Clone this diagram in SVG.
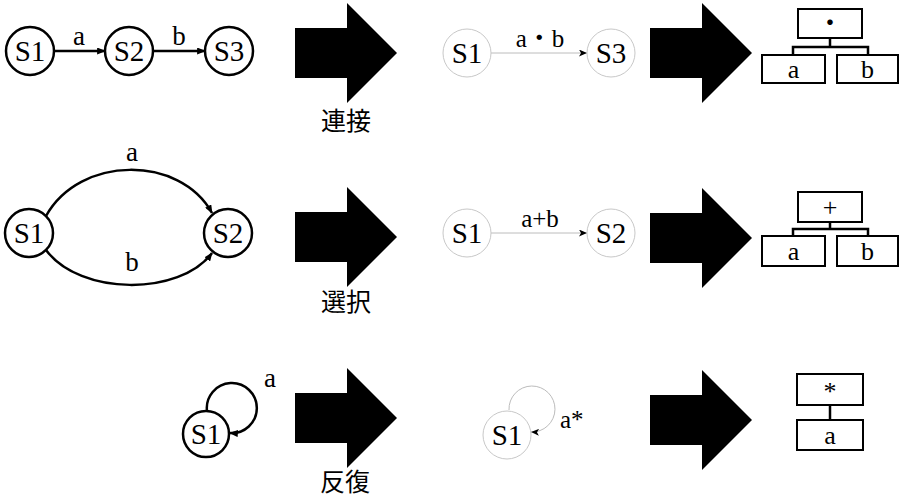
<svg xmlns="http://www.w3.org/2000/svg" width="903" height="499" viewBox="0 0 903 499">
  <style>
    .st { fill: #fff; stroke: #000; stroke-width: 2.5; }
    .st2 { fill: #fff; stroke: #c8c8c8; stroke-width: 1; }
    .edge { fill: none; stroke: #000; stroke-width: 2.5; }
    .edge2 { fill: none; stroke: #bcbcbc; stroke-width: 1; }
    .box { fill: #fff; stroke: #000; stroke-width: 2; }
    .tline { fill: none; stroke: #000; stroke-width: 2.5; }
  </style>
  <defs>
    <marker id="arr" viewBox="0 0 10 8" refX="9" refY="4" markerWidth="9" markerHeight="7" markerUnits="userSpaceOnUse" orient="auto">
      <path d="M0,0 L10,4 L0,8 z" fill="#000"/>
    </marker>
    <marker id="arr2" viewBox="0 0 8 7" refX="8" refY="3.5" markerWidth="8" markerHeight="7" markerUnits="userSpaceOnUse" orient="auto">
      <path d="M0,0 L8,3.5 L0,7 L2,3.5 z" fill="#000"/>
    </marker>
    <!-- big block arrow, tip at (0,0) -->
    <polygon id="big" points="-102,-25 -50,-25 -50,-50 0,0 -50,50 -50,25 -102,25" fill="#000"/>
  </defs>

  <!-- block arrows and captions -->
  <g id="transforms">
    <use href="#big" x="397" y="53"/>
    <use href="#big" x="397" y="237"/>
    <use href="#big" x="397" y="418"/>
    <use href="#big" x="752" y="53"/>
    <use href="#big" x="752" y="238"/>
    <use href="#big" x="752" y="420"/>
    <g font-family="Noto Sans CJK JP, Noto Sans, sans-serif" font-size="25" text-anchor="middle" fill="#000">
      <text x="346" y="130">連接</text>
      <text x="346" y="311">選択</text>
      <text x="345" y="491">反復</text>
    </g>
  </g>

  <!-- connectors -->
  <g id="connectors" font-family="Liberation Serif, Noto Sans CJK JP, serif" fill="#000">
    <line class="edge" x1="54" y1="51" x2="105" y2="51" marker-end="url(#arr)"/>
    <text x="79" y="45" font-size="27" text-anchor="middle">a</text>
    <line class="edge" x1="153" y1="51" x2="205" y2="51" marker-end="url(#arr)"/>
    <text x="179" y="45" font-size="27" text-anchor="middle">b</text>

    <path class="edge" d="M46,216 C80,155 180,155 212,213" marker-end="url(#arr)"/>
    <text x="132" y="161" font-size="27" text-anchor="middle">a</text>
    <path class="edge" d="M46,250 C80,296 180,296 212,253" marker-end="url(#arr)"/>
    <text x="132" y="271" font-size="27" text-anchor="middle">b</text>

    <path class="edge" d="M207,411 A25 25 0 1 1 230,433" marker-end="url(#arr)"/>
    <text x="270" y="387" font-size="27" text-anchor="middle">a</text>

    <line class="edge2" x1="491" y1="53" x2="587" y2="53" marker-end="url(#arr2)"/>
    <text x="540" y="47" font-size="25" text-anchor="middle">a・b</text>
    <line class="edge2" x1="491" y1="233" x2="587" y2="233" marker-end="url(#arr2)"/>
    <text x="540" y="227" font-size="25" text-anchor="middle">a+b</text>
    <path class="edge2" d="M509,410 A23 23 0 1 1 531,432" marker-end="url(#arr2)"/>
    <text x="560" y="428" font-size="25">a*</text>

    <path class="tline" d="M830,38 V47 M793,55 V47 H868 V55"/>
    <path class="tline" d="M830,222 V229 M793,236 V229 H868 V236"/>
    <path class="tline" d="M830,405 V420"/>
  </g>

  <g font-family="Liberation Serif, Noto Sans CJK JP, serif" font-size="29" text-anchor="middle" fill="#000">
    <!-- concatenation -->
    <g id="c-s1"><circle class="st" cx="30" cy="51" r="24"/><text x="30" y="61">S1</text></g>
    <g id="c-s2"><circle class="st" cx="129" cy="51" r="24"/><text x="129" y="61">S2</text></g>
    <g id="c-s3"><circle class="st" cx="229" cy="51" r="24"/><text x="229" y="61">S3</text></g>
    <g id="c-r-s1"><circle class="st2" cx="467" cy="53" r="24"/><text x="467" y="63">S1</text></g>
    <g id="c-r-s3"><circle class="st2" cx="611" cy="53" r="24"/><text x="611" y="63">S3</text></g>

    <!-- selection -->
    <g id="s-s1"><circle class="st" cx="29" cy="233" r="24"/><text x="29" y="243">S1</text></g>
    <g id="s-s2"><circle class="st" cx="228" cy="233" r="24"/><text x="228" y="243">S2</text></g>
    <g id="s-r-s1"><circle class="st2" cx="467" cy="233" r="24"/><text x="467" y="243">S1</text></g>
    <g id="s-r-s2"><circle class="st2" cx="611" cy="233" r="24"/><text x="611" y="243">S2</text></g>

    <!-- repetition -->
    <g id="r-s1"><circle class="st" cx="206" cy="434" r="23"/><text x="206" y="444">S1</text></g>
    <g id="r-r-s1"><circle class="st2" cx="507" cy="435" r="24"/><text x="507" y="445">S1</text></g>
  </g>

  <!-- syntax trees -->
  <g font-family="Liberation Serif, Noto Sans CJK JP, serif" font-size="26" text-anchor="middle" fill="#000">
    <g id="c-t-root"><rect class="box" x="798" y="9" width="64" height="29"/><text x="830" y="32">・</text></g>
    <g id="c-t-a"><rect class="box" x="762" y="55" width="63" height="28"/><text x="793.5" y="78">a</text></g>
    <g id="c-t-b"><rect class="box" x="837" y="55" width="61" height="28"/><text x="867.5" y="78">b</text></g>
    <g id="s-t-root"><rect class="box" x="798" y="192" width="64" height="30"/><text x="830" y="216">+</text></g>
    <g id="s-t-a"><rect class="box" x="762" y="236" width="63" height="30"/><text x="793.5" y="260">a</text></g>
    <g id="s-t-b"><rect class="box" x="837" y="236" width="61" height="30"/><text x="867.5" y="260">b</text></g>
    <g id="r-t-root"><rect class="box" x="797" y="374" width="66" height="31"/><text x="830" y="400">*</text></g>
    <g id="r-t-a"><rect class="box" x="797" y="420" width="66" height="30"/><text x="830" y="444">a</text></g>
  </g>
</svg>
